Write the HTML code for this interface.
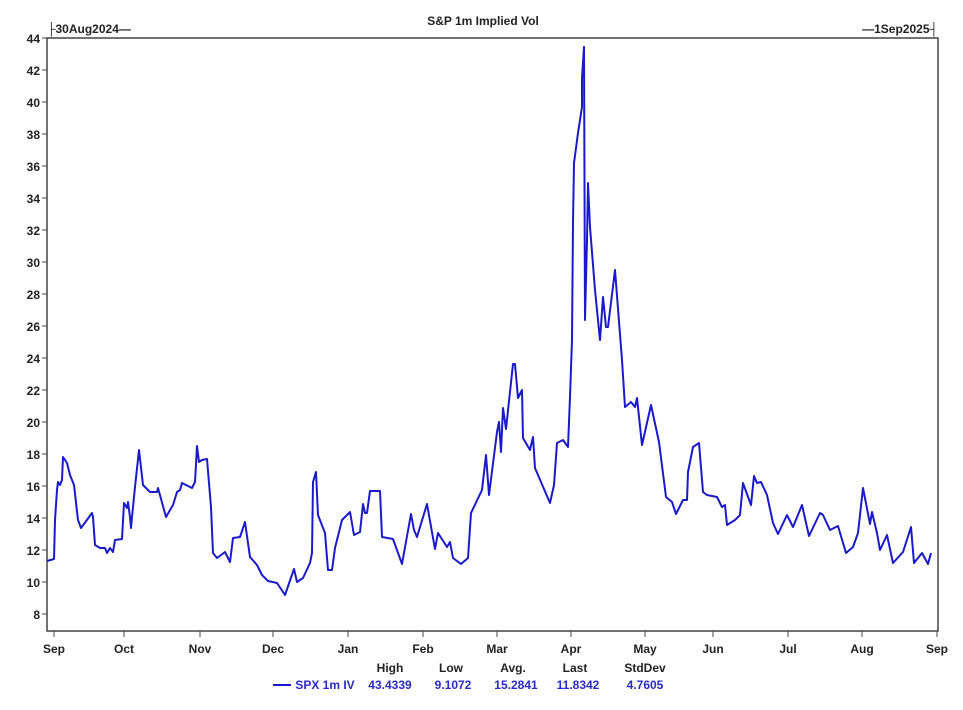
<!DOCTYPE html>
<html><head><style>
body{margin:0;background:#fff;}
svg text{font-family:"Liberation Sans",Arial,sans-serif;font-weight:bold;font-size:12px;fill:#222;}
</style></head><body>
<svg width="963" height="705" viewBox="0 0 963 705" xmlns="http://www.w3.org/2000/svg">
<rect width="963" height="705" fill="#fff"/>
<text x="483" y="25" text-anchor="middle">S&amp;P 1m Implied Vol</text>
<text x="47" y="33">├30Aug2024—</text>
<text x="938" y="33" text-anchor="end">—1Sep2025┤</text>
<rect x="47" y="38" width="891" height="593" fill="none" stroke="#444" stroke-width="1.5"/>
<g stroke="#444" stroke-width="1">
<line x1="42" y1="38" x2="47" y2="38"/><line x1="42" y1="70" x2="47" y2="70"/><line x1="42" y1="102" x2="47" y2="102"/><line x1="42" y1="134" x2="47" y2="134"/><line x1="42" y1="166" x2="47" y2="166"/><line x1="42" y1="198" x2="47" y2="198"/><line x1="42" y1="230" x2="47" y2="230"/><line x1="42" y1="262" x2="47" y2="262"/><line x1="42" y1="294" x2="47" y2="294"/><line x1="42" y1="326" x2="47" y2="326"/><line x1="42" y1="358" x2="47" y2="358"/><line x1="42" y1="390" x2="47" y2="390"/><line x1="42" y1="422" x2="47" y2="422"/><line x1="42" y1="454" x2="47" y2="454"/><line x1="42" y1="486" x2="47" y2="486"/><line x1="42" y1="518" x2="47" y2="518"/><line x1="42" y1="550" x2="47" y2="550"/><line x1="42" y1="582" x2="47" y2="582"/><line x1="42" y1="614" x2="47" y2="614"/>
<line x1="54" y1="631" x2="54" y2="637"/><line x1="124" y1="631" x2="124" y2="637"/><line x1="200" y1="631" x2="200" y2="637"/><line x1="273" y1="631" x2="273" y2="637"/><line x1="348" y1="631" x2="348" y2="637"/><line x1="423" y1="631" x2="423" y2="637"/><line x1="497" y1="631" x2="497" y2="637"/><line x1="571" y1="631" x2="571" y2="637"/><line x1="645" y1="631" x2="645" y2="637"/><line x1="713" y1="631" x2="713" y2="637"/><line x1="788" y1="631" x2="788" y2="637"/><line x1="862" y1="631" x2="862" y2="637"/><line x1="937" y1="631" x2="937" y2="637"/>
</g>
<g text-anchor="end">
<text x="40" y="43">44</text><text x="40" y="75">42</text><text x="40" y="107">40</text><text x="40" y="139">38</text><text x="40" y="171">36</text><text x="40" y="203">34</text><text x="40" y="235">32</text><text x="40" y="267">30</text><text x="40" y="299">28</text><text x="40" y="331">26</text><text x="40" y="363">24</text><text x="40" y="395">22</text><text x="40" y="427">20</text><text x="40" y="459">18</text><text x="40" y="491">16</text><text x="40" y="523">14</text><text x="40" y="555">12</text><text x="40" y="587">10</text><text x="40" y="619">8</text>
</g>
<g text-anchor="middle">
<text x="54" y="653">Sep</text><text x="124" y="653">Oct</text><text x="200" y="653">Nov</text><text x="273" y="653">Dec</text><text x="348" y="653">Jan</text><text x="423" y="653">Feb</text><text x="497" y="653">Mar</text><text x="571" y="653">Apr</text><text x="645" y="653">May</text><text x="713" y="653">Jun</text><text x="788" y="653">Jul</text><text x="862" y="653">Aug</text><text x="937" y="653">Sep</text>
</g>
<polyline fill="none" stroke="#1a1acc" stroke-width="2" stroke-linejoin="round" points="47,561 54,559 55,520 57,490 58,482 60,485 62,480 63,457 67,463 70,475 74,485 78,520 81,528 92,513 93,517 95,545 100,548 105,548 107,553 110,548 113,552 115,540 122,539 124,503 127,508 128,502 130,517 131,528 132,517 135,487 139,450 143,485 150,492 157,492 158,488 166,517 173,505 177,492 180,490 182,483 192,488 195,482 197,446 199,462 202,460 207,459 209,483 211,507 213,553 217,558 225,552 230,562 233,538 240,537 245,522 250,557 257,565 262,575 268,581 277,583 285,595 294,569 297,582 303,578 310,563 312,553 313,482 316,472 318,515 325,533 328,570 332,570 335,548 342,520 345,517 350,512 354,535 360,532 363,504 365,513 367,513 370,491 380,491 382,537 393,539 402,564 411,514 414,530 417,537 427,504 435,549 438,533 447,547 450,542 453,558 461,564 468,558 471,513 482,490 486,455 489,495 497,432 499,422 501,452 503,408 506,429 513,364 515,364 518,398 522,390 523,438 530,450 533,437 535,468 550,503 554,485 557,443 563,440 568,447 570,397 572,340 573,223 574,163 578,133 582,107 582,78 584,47 585,320 587,240 588,183 590,227 595,290 600,340 603,297 606,327 608,327 615,270 622,360 625,407 631,402 635,407 637,398 642,445 651,405 659,442 666,497 672,502 676,514 683,500 687,500 688,472 693,447 699,443 703,492 707,495 717,497 722,507 725,505 727,525 735,520 740,515 743,483 751,505 754,476 757,483 761,482 767,495 773,523 778,534 787,515 793,527 802,505 809,536 820,513 823,515 830,530 838,526 846,553 853,547 858,533 863,488 870,524 872,512 877,533 880,550 887,535 893,563 903,552 911,527 914,563 922,553 928,564 931,553"/>
<g text-anchor="middle">
<text x="390" y="672">High</text><text x="451" y="672">Low</text><text x="513" y="672">Avg.</text><text x="575" y="672">Last</text><text x="645" y="672">StdDev</text>
</g>
<line x1="273" y1="685" x2="291" y2="685" stroke="#1a1acc" stroke-width="2"/>
<g style="fill:#2a2acc" text-anchor="middle">
<text x="325" y="689" style="fill:#2a2acc">SPX 1m IV</text>
<text x="390" y="689" style="fill:#2a2acc">43.4339</text><text x="453" y="689" style="fill:#2a2acc">9.1072</text><text x="516" y="689" style="fill:#2a2acc">15.2841</text><text x="578" y="689" style="fill:#2a2acc">11.8342</text><text x="645" y="689" style="fill:#2a2acc">4.7605</text>
</g>
</svg>
</body></html>
